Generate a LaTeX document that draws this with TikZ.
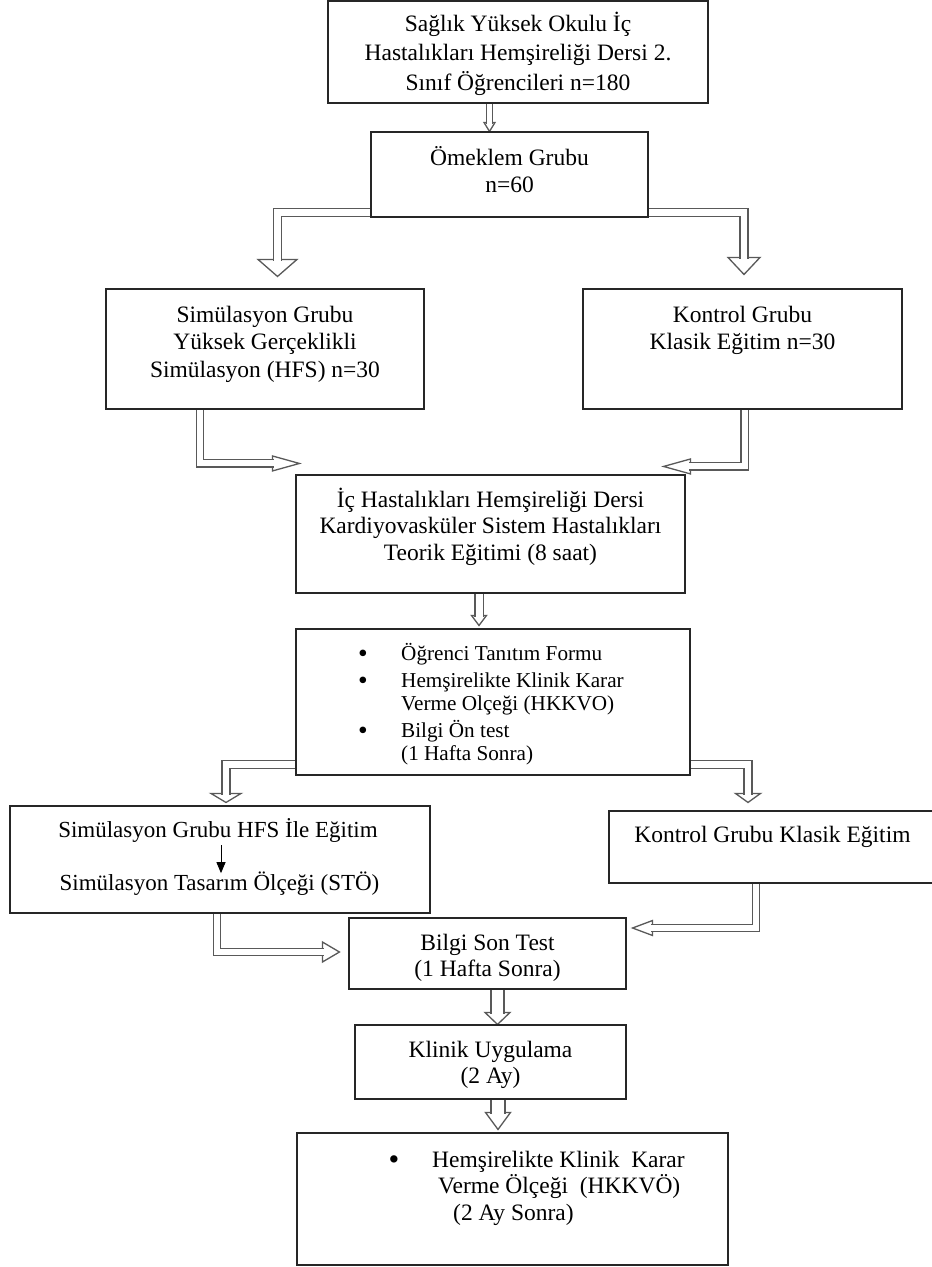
\documentclass[tikz,border=0pt]{standalone}
\usepackage{fontspec}
\setmainfont{Liberation Serif}
\usetikzlibrary{calc,arrows.meta,backgrounds}
\newcommand\topstrut{\rule{0pt}{22pt}}
\newcommand\arrhead[4]{\draw[headst,shift={(#1)},rotate=#2] (0,0) -- (-#3,#4) -- (-#3,-#4) -- cycle;}
\newcommand\bigbul{\raisebox{-2.2pt}{\scalebox{1.3}{\textbullet}}}
\newcommand\bul{\makebox[42pt][l]{\hspace*{-1pt}\bigbul}}
\begin{document}
\begin{tikzpicture}[x=1pt,y=-1pt,
 box/.style={draw=black!85,line width=1.1pt,inner sep=0pt},
 txt/.style={inner sep=0pt,align=center,anchor=north,font={\fontsize{23.5}{#1}\selectfont\lineskiplimit=-40pt}},
 txt/.default=27,
 hshaft/.style={draw=black!65,line width=1.3pt,double=white,double distance=#1,line join=miter},
 headst/.style={draw=black!65,fill=white,line width=1.3pt,line join=miter},
 blk/.style={draw=black,line width=1pt,-{Triangle[length=11pt,width=9pt]}}]
\useasboundingbox (0,0) rectangle (932,1267);

% boxes
\node[box,minimum width=380pt,minimum height=102pt] (b1) at (518,52) {};
\node[box,minimum width=277pt,minimum height=85pt] (b2) at (509.5,174.5) {};
\node[box,minimum width=318pt,minimum height=120pt] (b3L) at (265,349) {};
\node[box,minimum width=319pt,minimum height=120pt] (b3R) at (742.5,349) {};
\node[box,minimum width=389pt,minimum height=118pt] (b4) at (490.5,534) {};
\node[box,minimum width=394pt,minimum height=146pt] (b5) at (493,702) {};
\node[box,minimum width=420pt,minimum height=107pt] (b6L) at (220,859.5) {};
\node[box,minimum width=331pt,minimum height=72pt] (b6R) at (774.5,847) {};
\node[box,minimum width=277pt,minimum height=71pt] (b7) at (487.5,953.5) {};
\node[box,minimum width=271pt,minimum height=74pt] (b8) at (490.5,1062) {};
\node[box,minimum width=431pt,minimum height=132pt] (b9) at (512.5,1199) {};

% texts
\node[txt=29.5] (t1) at (518,9) {\topstrut Sağlık Yüksek Okulu İç\\Hastalıkları Hemşireliği Dersi 2.\\Sınıf Öğrencileri n=180};
\node[txt] (t2) at (509.5,143) {\topstrut Ömeklem Grubu\\n=60};
\node[txt=27.5] (t3L) at (265,300) {\topstrut Simülasyon Grubu\\Yüksek Gerçeklikli\\Simülasyon (HFS) n=30};
\node[txt=27.5] (t3R) at (742.5,300) {\topstrut Kontrol Grubu\\Klasik Eğitim n=30};
\node[txt=26.5] (t4) at (490.5,485) {\topstrut İç Hastalıkları Hemşireliği Dersi\\Kardiyovasküler Sistem Hastalıkları\\Teorik Eğitimi (8 saat)};
\node[txt,anchor=north west,align=left,font={\fontsize{21.2}{23}\selectfont\lineskiplimit=-40pt}] (t5) at (359,638)
 {\topstrut\bul Öğrenci Tanıtım Formu\\[4pt]\bul Hemşirelikte Klinik Karar\\\hspace*{42pt}Verme Olçeği (HKKVO)\\[4pt]\bul Bilgi Ön test\\\hspace*{42pt}(1 Hafta Sonra)};
\node[txt,anchor=base,font=\fontsize{23}{27}\selectfont] (t6a) at (218,837) {Simülasyon Grubu HFS İle Eğitim};
\node[txt,anchor=base,font=\fontsize{23}{27}\selectfont] (t6b) at (219.5,890) {Simülasyon Tasarım Ölçeği (STÖ)};
\node[txt,anchor=base] (t6R) at (772.5,842) {Kontrol Grubu Klasik Eğitim};
\node[txt=26] (t7) at (487.5,928) {\topstrut Bilgi Son Test\\(1 Hafta Sonra)};
\node[txt=26] (t8) at (490.5,1035) {\topstrut Klinik Uygulama\\(2 Ay)};
\node[txt=26.5,anchor=north west,align=left] (t9) at (389.4,1145)
 {\topstrut\makebox[42.6pt][l]{\hspace*{-1pt}\bigbul}Hemşirelikte Klinik\ \ Karar\\\hspace*{48.6pt}Verme Ölçeği\ \ (HKKVÖ)\\\hspace*{63.6pt}(2 Ay Sonra)};

% small black arrow inside box 6L
\coordinate (c6) at (t6a.south |- t6b.north);
\draw[blk] ([xshift=3pt,yshift=-3pt]t6a.south) -- ([xshift=3pt,yshift=-2pt]c6);

% hollow connectors
\begin{pgfonlayer}{background}
\coordinate (a1t) at ([xshift=-20pt]b2.north);
\arrhead{a1t}{-90}{9}{5.5}
\draw[hshaft=4.6pt] (b1.south -| a1t) -- ([yshift=7.5pt]a1t);

\coordinate (a2s) at ([yshift=5pt]b2.south west);
\coordinate (a2t) at ([xshift=12.5pt,yshift=12pt]b3L.north);
\arrhead{a2t}{-90}{17}{19.5}
\draw[hshaft=6.6pt] (a2s) -| ([yshift=15.5pt]a2t);

\coordinate (a3s) at ([yshift=5pt]b2.south east);
\coordinate (a3t) at ([xshift=1.5pt,yshift=14pt]b3R.north);
\arrhead{a3t}{-90}{17}{16}
\draw[hshaft=6.6pt] (a3s) -| ([yshift=15.5pt]a3t);

\coordinate (a4t) at ([xshift=4pt,yshift=11pt]b4.north west);
\arrhead{a4t}{0}{27}{7.5}
\draw[hshaft=6pt] ([xshift=-65pt]b3L.south) |- ([xshift=-25.5pt]a4t);

\coordinate (a5t) at ([xshift=-22pt,yshift=8pt]b4.north east);
\arrhead{a5t}{180}{27}{7.5}
\draw[hshaft=6pt] ([xshift=2pt]b3R.south) |- ([xshift=25.5pt]a5t);

\coordinate (a6t) at ([xshift=-14pt,yshift=3pt]b5.north);
\arrhead{a6t}{-90}{10}{7.5}
\draw[hshaft=7pt] (b4.south -| a6t) -- ([yshift=8.5pt]a6t);

\coordinate (a7t) at ([xshift=6pt,yshift=3pt]b6L.north);
\arrhead{a7t}{-90}{9}{15}
\draw[hshaft=6.6pt] ([yshift=11pt]b5.south west) -| ([yshift=7.5pt]a7t);

\coordinate (a8t) at ([xshift=-26.5pt,yshift=8pt]b6R.north);
\arrhead{a8t}{-90}{9}{12.5}
\draw[hshaft=6.6pt] ([yshift=11pt]b5.south east) -| ([yshift=7.5pt]a8t);

\coordinate (a9t) at ([xshift=-9pt,yshift=1.5pt]b7.west);
\arrhead{a9t}{0}{17}{10}
\draw[hshaft=5.6pt] ([xshift=-3pt]b6L.south) |- ([xshift=-15.5pt]a9t);

\coordinate (a10t) at ([xshift=6pt,yshift=25.5pt]b7.east);
\arrhead{a10t}{180}{20}{7.5}
\draw[hshaft=5.6pt] ([xshift=-18.5pt]b6R.south) |- ([xshift=18.5pt]a10t);

\coordinate (a11t) at ([xshift=7pt]b8.north);
\arrhead{a11t}{-90}{12}{12.5}
\draw[hshaft=11.6pt] (b7.south -| a11t) -- ([yshift=10.5pt]a11t);

\coordinate (a12t) at ([xshift=-14.5pt,yshift=3pt]b9.north);
\arrhead{a12t}{-90}{17}{12.5}
\draw[hshaft=12.6pt] (b8.south -| a12t) -- ([yshift=15.5pt]a12t);
\end{pgfonlayer}
\end{tikzpicture}
\end{document}
